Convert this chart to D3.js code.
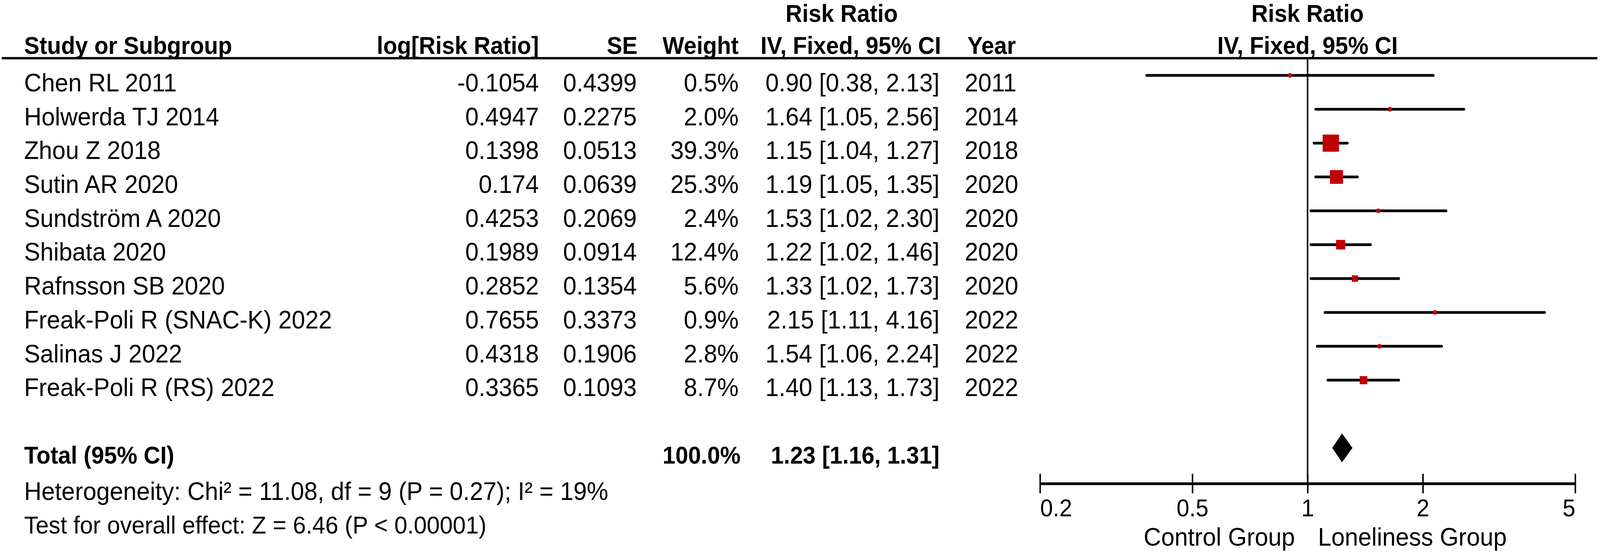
<!DOCTYPE html>
<html>
<head>
<meta charset="utf-8">
<script src="https://cdn.jsdelivr.net/npm/d3@7"></script>
<style>
  html, body { margin: 0; padding: 0; background: #fff; overflow: hidden; }
  svg { display: block; width: 100vw; height: 100vh; font-family: "Liberation Sans", Arial, sans-serif; }
</style>
</head>
<body>
<svg id="chart" viewBox="0 0 4317 1421" preserveAspectRatio="none"></svg>
<script>
// values
const studies = ['Chen RL 2011', 'Holwerda TJ 2014', 'Zhou Z 2018', 'Sutin AR 2020', 'Sundström A 2020',
    'Shibata 2020', 'Rafnsson SB 2020', 'Freak-Poli R (SNAC-K) 2022', 'Salinas J 2022', 'Freak-Poli R (RS) 2022'];
const logRR = [-0.1054, 0.4947, 0.1398, 0.174, 0.4253, 0.1989, 0.2852, 0.7655, 0.4318, 0.3365];
const seVals = [0.4399, 0.2275, 0.0513, 0.0639, 0.2069, 0.0914, 0.1354, 0.3373, 0.1906, 0.1093];
const weights = [0.5, 2.0, 39.3, 25.3, 2.4, 12.4, 5.6, 0.9, 2.8, 8.7];
const rr = [0.90, 1.64, 1.15, 1.19, 1.53, 1.22, 1.33, 2.15, 1.54, 1.40];
const ciLow = [0.38, 1.05, 1.04, 1.05, 1.02, 1.02, 1.02, 1.11, 1.06, 1.13];
const ciHigh = [2.13, 2.56, 1.27, 1.35, 2.30, 1.46, 1.73, 4.16, 2.24, 1.73];
const years = [2011, 2014, 2018, 2020, 2020, 2020, 2020, 2022, 2022, 2022];

const total = [100.0, 1.23, 1.16, 1.31]; // weight, RR, low, high
const heterogeneity = 'Heterogeneity: Chi² = 11.08, df = 9 (P = 0.27); I² = 19%';
const overallEffect = 'Test for overall effect: Z = 6.46 (P < 0.00001)';
const axisTicks = [0.2, 0.5, 1, 2, 5];
const favourLabels = ['Control Group', 'Loneliness Group'];

const svg = d3.select('#chart');
const RED = '#c00000';

// column anchors (x)
const col = {
    study: 65,
    logrr: 1454,
    se: 1718,
    weight: 1993,
    ci: 2535,
    year: 2603,
};

// scales
const x = d3.scaleLog().domain([0.2, 5]).range([2806, 4250]);
const y = d3.scaleLinear().domain([0, 1]).range([193, 279.7]); // row index -> mark y
const box = d3.scaleSqrt().domain([0, d3.max(weights)]).range([0, 44]);
const boxSize = w => Math.max(box(w), 12);

const totalRow = 11;
const axisY = 1238;
const headLineY = 149;

// headers
const head = svg.append('g').attr('font-weight', 'bold').attr('font-size', 62);
const headTxt = (t, xx, yy, anchor) => {
    head.append('text').attr('x', xx).attr('y', yy).attr('text-anchor', anchor).text(t);
};
headTxt('Risk Ratio', 2271, 56, 'middle');
headTxt('Risk Ratio', x(1), 56, 'middle');
headTxt('Study or Subgroup', col.study, 138, 'start');
headTxt('log[Risk Ratio]', col.logrr, 138, 'end');
headTxt('SE', 1720, 138, 'end');
headTxt('Weight', col.weight, 138, 'end');
headTxt('IV, Fixed, 95% CI', 2539, 138, 'end');
headTxt('Year', 2610, 138, 'start');
headTxt('IV, Fixed, 95% CI', x(1), 138, 'middle');

svg.append('line')
    .attr('x1', 5).attr('x2', 4310)
    .attr('y1', headLineY).attr('y2', headLineY)
    .attr('stroke', '#000').attr('stroke-width', 6);

// study rows text
const rows = svg.append('g').attr('font-size', 65);
studies.forEach((s, i) => {
    const by = y(i) + 41;
    const cells = [
        [s, col.study, 'start'],
        [String(logRR[i]), col.logrr, 'end'],
        [String(seVals[i]), col.se, 'end'],
        [weights[i].toFixed(1) + '%', col.weight, 'end'],
        [`${rr[i].toFixed(2)} [${ciLow[i].toFixed(2)}, ${ciHigh[i].toFixed(2)}]`, col.ci, 'end'],
        [String(years[i]), col.year, 'start'],
    ];
    cells.forEach(c => {
        rows.append('text').attr('x', c[1]).attr('y', by).attr('text-anchor', c[2]).text(c[0]);
    });
});

// total row
const tot = svg.append('g').attr('font-size', 62).attr('font-weight', 'bold');
const totY = y(totalRow) + 40;
tot.append('text').attr('x', col.study).attr('y', totY).text('Total (95% CI)');
tot.append('text').attr('x', col.weight + 5).attr('y', totY).attr('text-anchor', 'end')
    .text(total[0].toFixed(1) + '%');
tot.append('text').attr('x', col.ci).attr('y', totY).attr('text-anchor', 'end')
    .text(`${total[1].toFixed(2)} [${total[2].toFixed(2)}, ${total[3].toFixed(2)}]`);

svg.append('text').attr('x', col.study).attr('y', 1280).attr('font-size', 65).text(heterogeneity);
svg.append('text').attr('x', col.study).attr('y', 1366).attr('font-size', 63).text(overallEffect);

// reference line at RR = 1
svg.append('line')
    .attr('x1', x(1)).attr('x2', x(1))
    .attr('y1', headLineY).attr('y2', axisY)
    .attr('stroke', '#000').attr('stroke-width', 4);

// confidence intervals
const plot = svg.append('g');
plot.selectAll('line.ci')
    .data(studies)
    .enter()
    .append('line')
    .attr('class', 'ci')
    .attr('x1', (d, i) => x(ciLow[i]))
    .attr('x2', (d, i) => x(ciHigh[i]))
    .attr('y1', (d, i) => y(i))
    .attr('y2', (d, i) => y(i))
    .attr('stroke', '#000')
    .attr('stroke-width', 7)
    .attr('stroke-linecap', 'round');

// weight boxes
plot.selectAll('rect.box')
    .data(studies)
    .enter()
    .append('rect')
    .attr('class', 'box')
    .attr('x', (d, i) => x(rr[i]) - boxSize(weights[i]) / 2)
    .attr('y', (d, i) => y(i) - boxSize(weights[i]) / 2)
    .attr('width', (d, i) => boxSize(weights[i]))
    .attr('height', (d, i) => boxSize(weights[i]))
    .attr('rx', (d, i) => weights[i] < 5 ? 6 : 1)
    .attr('fill', RED);

// pooled diamond
const dy = y(totalRow);
plot.append('path')
    .attr('d', `M${x(total[2])},${dy}L${x(total[1])},${dy - 37}L${x(total[3])},${dy}L${x(total[1])},${dy + 37}Z`)
    .attr('fill', '#000');

// axis
const axisG = svg.append('g')
    .attr('transform', `translate(0,${axisY})`)
    .call(d3.axisBottom(x).tickValues(axisTicks).tickFormat(d => d).tickSizeOuter(0));

axisG.select('.domain').attr('stroke', '#000').attr('stroke-width', 7);
axisG.selectAll('.tick line').attr('y1', -25).attr('y2', 25).attr('stroke', '#000').attr('stroke-width', 4);
axisG.selectAll('.tick text')
    .attr('y', 84).attr('dy', 0)
    .attr('font-size', 62)
    .attr('font-family', '"Liberation Sans", Arial, sans-serif')
    .attr('fill', '#000')
    .attr('text-anchor', (d, i) => i == 0 ? 'start' : (i == axisTicks.length - 1 ? 'end' : 'middle'));

// favours labels
svg.append('text').attr('x', x(1) - 34).attr('y', 1397).attr('font-size', 65)
    .attr('text-anchor', 'end').text(favourLabels[0]);
svg.append('text').attr('x', x(1) + 28).attr('y', 1397).attr('font-size', 65)
    .attr('text-anchor', 'start').text(favourLabels[1]);
</script>
</body>
</html>
